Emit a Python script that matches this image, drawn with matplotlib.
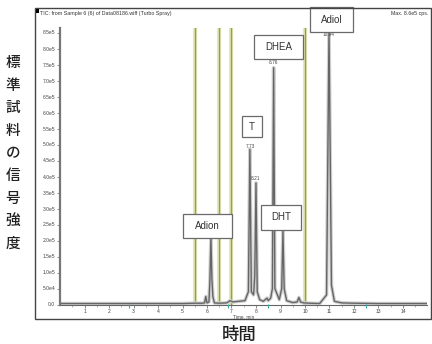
import matplotlib.pyplot as plt
from matplotlib.patches import Rectangle

plt.rcParams['font.family'] = ['Liberation Sans', 'DejaVu Sans']

# TIC trace (time in min, intensity in cps)
trace_time = [0.0, 0.5, 1.0, 1.5, 2.0, 2.5, 3.0, 3.5, 4.0, 4.5, 5.0, 5.5,
              5.8, 5.9, 5.95, 6.0, 6.08, 6.12, 6.16, 6.2, 6.24, 6.3, 6.5,
              6.8, 6.95, 7.05, 7.3, 7.55, 7.69, 7.75, 7.81, 7.9, 7.95, 8.0,
              8.05, 8.15, 8.3, 8.45, 8.5, 8.6, 8.67, 8.72, 8.77, 8.95, 9.05,
              9.1, 9.15, 9.25, 9.5, 9.68, 9.75, 9.82, 9.95, 10.2, 10.6, 10.88,
              10.98, 11.08, 11.2, 11.5, 12.0, 13.0, 14.0, 15.0]
trace_int = [0.03e5, 0.03e5, 0.03e5, 0.03e5, 0.03e5, 0.03e5, 0.03e5, 0.03e5,
             0.03e5, 0.03e5, 0.03e5, 0.04e5,
             0.04e5, 0.05e5, 0.25e5, 0.05e5, 0.08e5, 0.8e5, 2.1e5, 0.8e5,
             0.25e5, 0.05e5, 0.04e5,
             0.05e5, 0.12e5, 0.08e5, 0.1e5, 0.12e5, 0.4e5, 4.85e5, 0.4e5,
             0.3e5, 0.9e5, 3.8e5,
             0.4e5, 0.15e5, 0.1e5, 0.2e5, 0.12e5, 0.2e5, 0.5e5, 7.4e5,
             0.5e5, 0.15e5, 0.5e5,
             2.3e5, 0.5e5, 0.12e5, 0.06e5, 0.08e5, 0.22e5, 0.08e5, 0.05e5,
             0.04e5, 0.03e5, 0.3e5,
             8.6e5, 0.6e5, 0.1e5, 0.05e5, 0.04e5, 0.03e5, 0.03e5, 0.03e5]

window_lines = [5.5, 6.5, 7.0, 10.0]

peak_rt_labels = ['7.73', '8.21', '8.76', '10.94']
peak_rt_pos = [7.75, 8.0, 8.72, 10.98]
peak_rt_y = [4.95e5, 3.95e5, 7.55e5, 8.45e5]

compounds = ['Adion', 'T', 'DHEA', 'Adiol', 'DHT']

marker_times = [2.8, 6.85, 8.5, 12.5]

y_ticks = [i * 0.5e5 for i in range(18)]
y_ticklabels = ['0.0', '5.0e4', '1.0e5', '1.5e5', '2.0e5', '2.5e5', '3.0e5',
                '3.5e5', '4.0e5', '4.5e5', '5.0e5', '5.5e5', '6.0e5', '6.5e5',
                '7.0e5', '7.5e5', '8.0e5', '8.5e5']
x_ticks = list(range(1, 15))

ylabel_chars = ['標', '準', '試', '料', 'の', '信', '号', '強', '度']
xlabel = '時間'

W, H = 432, 344
fig = plt.figure(figsize=(W / 100, H / 100), dpi=100)

# outer frame of the screenshot
fig.patches.append(Rectangle((35 / W, 1 - 319 / H), 396 / W, 311 / H,
                             transform=fig.transFigure, fill=False,
                             edgecolor='#444444', lw=1.0))
fig.patches.append(Rectangle((36 / W, 1 - 13 / H), 3 / W, 4 / H,
                             transform=fig.transFigure, facecolor='black'))

ax = fig.add_axes([60 / W, 1 - 304.5 / H, 367.5 / W, 276.8 / H])
ax.set_xlim(0, 15.0)
ax.set_ylim(0, 8.65e5)

for t in window_lines:
    ax.axvline(t, color='#e6e8b8', lw=3.0, zorder=1)
    ax.axvline(t, color='#92a050', lw=1.0, zorder=1)

ax.plot(trace_time, trace_int, color='#d0d0d0', lw=2.6, zorder=2)
ax.plot(trace_time, trace_int, color='#666666', lw=1.0, zorder=2)

ax.set_yticks(y_ticks)
ax.set_yticklabels(y_ticklabels)
ax.set_xticks(x_ticks)
ax.set_xticks([i + 0.5 for i in range(15)], minor=True)
ax.tick_params(axis='both', labelsize=3.6, labelcolor='#444444',
               color='#777777', length=2, width=0.6, pad=1.5)
ax.tick_params(axis='x', which='minor', length=1.2, width=0.5, color='#999999')
for s in ['top', 'right']:
    ax.spines[s].set_visible(False)
ax.spines['left'].set_color('#777777')
ax.spines['left'].set_linewidth(1.6)
ax.spines['bottom'].set_color('#666666')
ax.spines['bottom'].set_linewidth(0.8)

ax.plot(marker_times, [-0.06e5] * len(marker_times), ls='none', marker='|',
        ms=3, mew=0.8, color='#3aa6a0', clip_on=False, zorder=3)

for lab, x, y in zip(peak_rt_labels, peak_rt_pos, peak_rt_y):
    ax.text(x, y, lab, fontsize=3.4, color='#444444', ha='center', va='center',
            zorder=4)

# label boxes: center (min, cps) and size (px)
px_x, px_y = 24.5, 32 / 1e5
box_layout = {
    'Adion': (6.02, 2.45e5, 49, 24),
    'T': (7.84, 5.56e5, 20, 21),
    'DHEA': (8.92, 8.05e5, 49, 24),
    'Adiol': (11.08, 8.9e5, 43, 25),
    'DHT': (9.02, 2.72e5, 40, 25),
}
for name in compounds:
    cx, cy, bw, bh = box_layout[name]
    w, h = bw / px_x, bh / px_y
    ax.add_patch(Rectangle((cx - w / 2, cy - h / 2), w, h, facecolor='white',
                           edgecolor='#6a6a6a', lw=0.9, zorder=5, clip_on=False))
    ax.text(cx, cy, name, fontsize=7, color='#333333', ha='center',
            va='center', zorder=6, clip_on=False)

fig.text(40 / W, 1 - 13 / H,
         'TIC: from Sample 6 (6) of Data08186.wiff (Turbo Spray)',
         fontsize=3.8, color='#333333', ha='left', va='center')
fig.text(428 / W, 1 - 13 / H, 'Max. 8.6e5 cps.', fontsize=3.8,
         color='#333333', ha='right', va='center')
fig.text(244 / W, 1 - 317 / H, 'Time, min', fontsize=3.4, color='#444444',
         ha='center', va='center')

cjk = ['Noto Sans CJK JP', 'DejaVu Sans']
for i, ch in enumerate(ylabel_chars):
    fig.text(13 / W, 1 - (63 + i * 22.6) / H, ch, family=cjk, fontsize=10.5,
             weight='medium', color='#222222', ha='center', va='center')
fig.text(239 / W, 1 - 335 / H, xlabel, family=cjk, fontsize=12.5,
         weight='medium', color='#222222', ha='center', va='center')

fig.savefig('out.png', dpi=100)
